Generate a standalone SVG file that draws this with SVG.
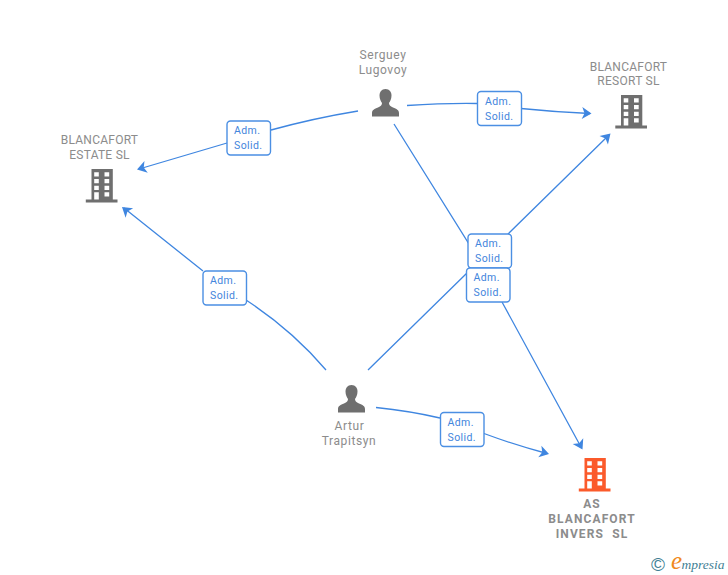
<svg xmlns="http://www.w3.org/2000/svg" width="728" height="575" viewBox="0 0 728 575">
<style>
.n{font-family:Roboto,"Liberation Sans",sans-serif;font-size:12px;fill:#8c8c8c;text-anchor:middle;letter-spacing:.6px}
.c{letter-spacing:.25px}
.b{font-weight:700;letter-spacing:1.1px}
.l{fill:none;stroke:#3f86e0;stroke-width:1.3}
.h{fill:#3f86e0}
.box{fill:#fff;stroke:#4b8fe3;stroke-width:1.4}
.t{font-family:Roboto,"Liberation Sans",sans-serif;font-size:10.5px;fill:#4385dc;letter-spacing:.4px}
</style>
<defs>
<path id="bld" fill-rule="evenodd" d="M5 0H26.300V30.500H31V33.500H-0.700V30.500H5ZM7.700 3.300V7.600H12.300V3.300ZM18 3.300V7.600H22.700V3.300ZM7.700 10V14.300H12.300V10ZM18 10V14.300H22.700V10ZM7.700 16.700V21H12.300V16.700ZM18 16.700V21H22.700V16.700ZM7.700 23.300V30.500H12.300V23.300ZM18 23.300V27.500H22.700V23.300Z"/>
<path id="per" d="M13.500 0C9.500 0 7.500 3 7.500 6.500C7.500 10 9 12.500 10 14C10 16 9 17 6 18.500C2.500 20 0 21 0 24V27.500H27V24C27 21 24.500 20 21 18.500C18 17 17 16 17 14C18 12.500 19.500 10 19.500 6.500C19.500 3 17.500 0 13.500 0Z"/>
<path id="arr" d="M0 0L-9.500 -6L-7 0L-9.500 6Z"/>
</defs>
<g id="connectors">
<path class="l" d="M407 105.500Q445 103 477 103.500M521 108.500Q555 112 590 113.500"/>
<use href="#arr" class="h" transform="translate(591.500 113.600) rotate(3)"/>
<path class="l" d="M358 111Q315 118 271 130M227 143L139 169"/>
<use href="#arr" class="h" transform="translate(137 169.500) rotate(164)"/>
<path class="l" d="M326 370Q292 330 246 300M203 271L124 208"/>
<use href="#arr" class="h" transform="translate(122 207) rotate(219)"/>
<path class="l" d="M368 370L468 272M508 234L609 135"/>
<use href="#arr" class="h" transform="translate(610.500 133.500) rotate(-44.500)"/>
<path class="l" d="M394 124L484 268M502 302L581 447"/>
<use href="#arr" class="h" transform="translate(582.500 449.500) rotate(61.500)"/>
<path class="l" d="M376 407.500Q410 411 440 418M484 433.500Q515 445 547 453.500"/>
<use href="#arr" class="h" transform="translate(549 454) rotate(15)"/>
</g>
<g id="node-serguey" fill="#6f6f6f"><use href="#per" x="372" y="89"/><text class="n" x="383" y="59">Serguey</text><text class="n" x="383" y="74">Lugovoy</text></g>
<g id="node-resort" fill="#6f6f6f"><use href="#bld" x="616" y="95"/><text class="n c" x="628.500" y="71">BLANCAFORT</text><text class="n c" x="628.500" y="85">RESORT SL</text></g>
<g id="node-estate" fill="#6f6f6f"><use href="#bld" x="86.500" y="169"/><text class="n c" x="99.500" y="144">BLANCAFORT</text><text class="n c" x="99.500" y="159">ESTATE SL</text></g>
<g id="node-artur" fill="#6f6f6f"><use href="#per" x="338" y="385"/><text class="n" x="349.500" y="430">Artur</text><text class="n" x="349" y="445">Trapitsyn</text></g>
<g id="node-invers" fill="#fb5a2b"><use href="#bld" x="579.500" y="458"/><text class="n b" x="592" y="508">AS</text><text class="n b" x="592" y="523">BLANCAFORT</text><text class="n b" x="592" y="538" xml:space="preserve">INVERS  SL</text></g>
<g id="label-1"><rect class="box" x="477.500" y="91.500" width="44" height="34" rx="3.500"/><text class="t" x="485" y="105">Adm.</text><text class="t" x="485" y="120">Solid.</text></g>
<g id="label-2"><rect class="box" x="227" y="121" width="43.500" height="34" rx="3.500"/><text class="t" x="234" y="134">Adm.</text><text class="t" x="234" y="149">Solid.</text></g>
<g id="label-3"><rect class="box" x="203" y="271" width="43.500" height="34" rx="3.500"/><text class="t" x="210" y="284">Adm.</text><text class="t" x="210" y="299">Solid.</text></g>
<g id="label-4"><rect class="box" x="468" y="234" width="43.500" height="34" rx="3.500"/><text class="t" x="475" y="247">Adm.</text><text class="t" x="475" y="262">Solid.</text></g>
<g id="label-5"><rect class="box" x="466.500" y="268" width="43.500" height="34" rx="3.500"/><text class="t" x="473.500" y="281">Adm.</text><text class="t" x="473.500" y="296">Solid.</text></g>
<g id="label-6"><rect class="box" x="440.500" y="412.500" width="43.500" height="34" rx="3.500"/><text class="t" x="447.500" y="426">Adm.</text><text class="t" x="447.500" y="441">Solid.</text></g>
<g id="logo"><text x="658" y="570.500" font-family="Liberation Sans,sans-serif" font-size="19" fill="#3f7f95" text-anchor="middle">©</text><text x="671" y="568.500" font-family="Liberation Serif,serif" font-style="italic" font-size="25" fill="#f08a1d">e</text><text x="681.500" y="569" font-family="Liberation Serif,serif" font-style="italic" font-size="13.500" fill="#3f7f95">mpresia</text></g>
</svg>
